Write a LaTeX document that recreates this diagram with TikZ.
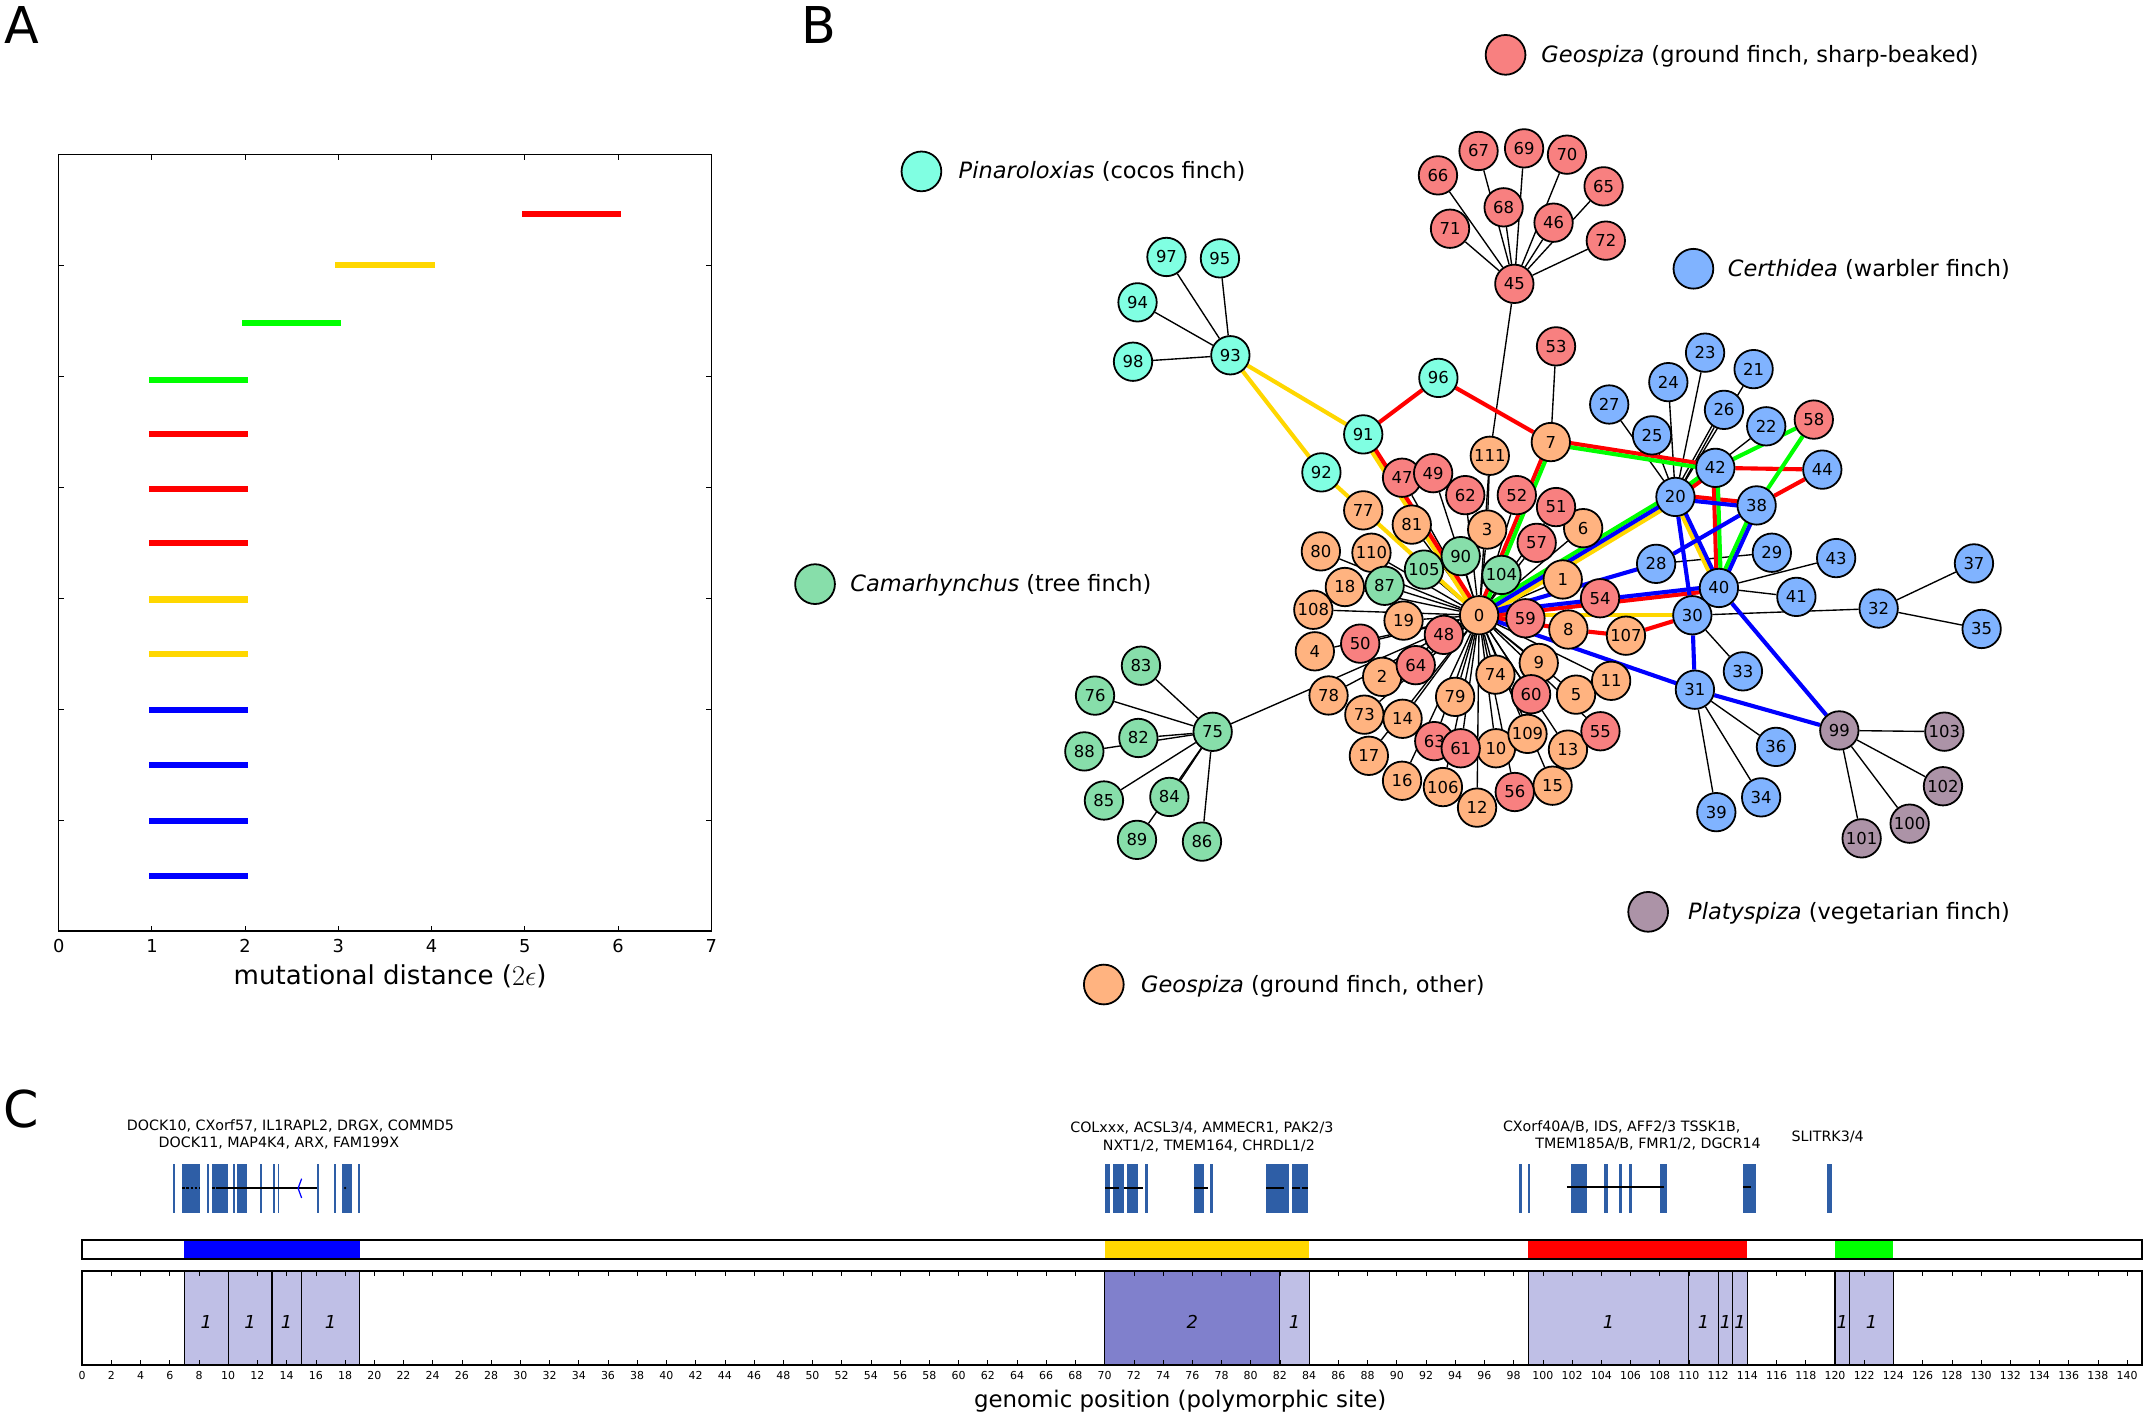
\documentclass[tikz,border=0pt]{standalone}
\usepackage{fontspec}
\setmainfont{DejaVu Sans}
\usetikzlibrary{calc,backgrounds}
\definecolor{nred}{RGB}{248,128,128}
\definecolor{ncyan}{RGB}{128,255,226}
\definecolor{nblue}{RGB}{128,179,255}
\definecolor{ngreen}{RGB}{135,222,170}
\definecolor{norange}{RGB}{255,179,128}
\definecolor{npurple}{RGB}{172,147,167}
\definecolor{eR}{RGB}{255,0,0}
\definecolor{eG}{RGB}{0,255,0}
\definecolor{eY}{RGB}{255,215,0}
\definecolor{eB}{RGB}{0,0,255}
\definecolor{lav}{RGB}{191,191,230}
\definecolor{lavd}{RGB}{128,128,204}
\definecolor{gb}{RGB}{46,94,166}
\newcommand{\pe}[4]{\draw[#1] ($(#2.center)!#4!90:(#3.center)$) -- ($(#3.center)!#4!-90:(#2.center)$);}
\tikzset{
  nd/.style={circle, draw=black, line width=1.3pt, minimum size=28pt, inner sep=0pt, font=\fontsize{12}{12}\selectfont},
  nR/.style={nd, fill=nred}, nC/.style={nd, fill=ncyan}, nB/.style={nd, fill=nblue},
  nG/.style={nd, fill=ngreen}, nO/.style={nd, fill=norange}, nP/.style={nd, fill=npurple},
  lg/.style={circle, draw=black, line width=1.3pt, minimum size=29pt, inner sep=0pt},
  lgtext/.style={anchor=base west, inner sep=0pt, font=\fontsize{16.4}{18}\selectfont},
  bk/.style={line width=1pt, black},
  cR/.style={line width=3pt, eR}, cG/.style={line width=3pt, eG},
  cY/.style={line width=3pt, eY}, cB/.style={line width=3pt, eB},
  abar/.style={line width=4.5pt, line cap=rect},
  panel/.style={anchor=base west, inner sep=0pt, font=\fontsize{37}{37}\selectfont},
  glab/.style={inner sep=0pt, font=\fontsize{10.4}{12}\selectfont},
  one/.style={inner sep=0pt, font=\fontsize{13}{13}\selectfont\itshape},
}
\begin{document}
\begin{tikzpicture}[x=1pt,y=-1pt]
\useasboundingbox (0,0) rectangle (1568,1036);

% ---------------- Panel A ----------------
\node[panel] (labA) at (3,32) {A};
\draw[line width=1pt] (42.8,112.6) rectangle (518.8,679);
\foreach \i in {1,...,6} {
  \draw[line width=0.7pt] (42.8+68*\i,679) -- ++(0,-4);
  \draw[line width=0.7pt] (42.8+68*\i,112.6) -- ++(0,4);
}
\foreach \k in {1,...,6} {
  \draw[line width=0.7pt] (42.8,112.6+80.91*\k) -- ++(4,0);
  \draw[line width=0.7pt] (518.8,112.6+80.91*\k) -- ++(-4,0);
}
\foreach \i in {0,...,7} {
  \node[inner sep=0pt, font=\fontsize{13}{13}\selectfont] (xt\i) at (42.8+68*\i,690) {\i};
}
\draw[abar, eR] (42.8+68*5,155.8) -- (42.8+68*6,155.8);
\draw[abar, eY] (42.8+68*3,193.5) -- (42.8+68*4,193.5);
\draw[abar, eG] (42.8+68*2,235.8) -- (42.8+68*3,235.8);
\draw[abar, eG] (110.8,277.2) -- (178.8,277.2);
\draw[abar, eR] (110.8,316.7) -- (178.8,316.7);
\draw[abar, eR] (110.8,356.7) -- (178.8,356.7);
\draw[abar, eR] (110.8,395.8) -- (178.8,395.8);
\draw[abar, eY] (110.8,437.2) -- (178.8,437.2);
\draw[abar, eY] (110.8,477.2) -- (178.8,477.2);
\draw[abar, eB] (110.8,517.7) -- (178.8,517.7);
\draw[abar, eB] (110.8,558.1) -- (178.8,558.1);
\draw[abar, eB] (110.8,598.6) -- (178.8,598.6);
\draw[abar, eB] (110.8,639.0) -- (178.8,639.0);
\node[inner sep=0pt, font=\fontsize{19}{19}\selectfont] (xlabA) at (284.5,712) {mutational distance (\raisebox{-0.05em}{\scalebox{1.2}{$2\epsilon$}})};

% ---------------- Panel B ----------------
\node[panel] (labB) at (584,32) {B};

% legend
\node[lg, fill=nred] (lg1) at (1098,40) {};
\node[lgtext] (lt1) at (1124,45.5) {\textit{Geospiza} (ground finch, sharp-beaked)};
\node[lg, fill=ncyan] (lg2) at (672,125) {};
\node[lgtext] (lt2) at (699,130.5) {\textit{Pinaroloxias} (cocos finch)};
\node[lg, fill=nblue] (lg3) at (1235,196) {};
\node[lgtext] (lt3) at (1260,201.5) {\textit{Certhidea} (warbler finch)};
\node[lg, fill=ngreen] (lg4) at (594.4,426) {};
\node[lgtext] (lt4) at (620,431.5) {\textit{Camarhynchus} (tree finch)};
\node[lg, fill=npurple] (lg5) at (1202,665) {};
\node[lgtext] (lt5) at (1231,670.5) {\textit{Platyspiza} (vegetarian finch)};
\node[lg, fill=norange] (lg6) at (805,718) {};
\node[lgtext] (lt6) at (832,723.5) {\textit{Geospiza} (ground finch, other)};

% nodes: orange
\foreach \i/\x/\y in {7/1131/322.4, 111/1086.5/332.4, 3/1084.6/386.2, 6/1154.6/385.2, 1/1139.7/422.6,
  0/1078.7/448.7, 8/1143.8/459.1, 107/1185.8/463.6, 77/994.2/372.2, 81/1029.6/382.6, 110/1000.2/403.1,
  80/963.3/402.1, 18/980.8/428.1, 108/957.8/444.7, 19/1023.6/452.6, 4/958.9/475, 2/1008/493.6,
  78/968.9/507.2, 73/995/521.2, 14/1022.9/524.2, 17/998.3/551.2, 16/1022.5/569.4, 106/1052.3/574,
  12/1077.2/589, 10/1091/545.7, 109/1114/535.2, 13/1143.5/546.7, 15/1132.3/573, 79/1061.2/508.2,
  74/1090.6/492, 9/1122.2/483.5, 5/1149.4/506.6, 11/1175/496.5}
  \node[nO] (n\i) at (\x,\y) {\i};
% green
\foreach \i/\x/\y in {105/1038.5/415.4, 90/1065.3/405.6, 104/1095/419.3, 87/1009.8/427.2,
  75/884.4/533.7, 83/832.1/485.5, 76/798.6/507.3, 82/830.2/538.2, 88/790.8/548, 85/805.1/583.8,
  84/852.8/581.2, 89/829.2/612.5, 86/876.6/613.8}
  \node[nG] (n\i) at (\x,\y) {\i};
% red
\foreach \i/\x/\y in {66/1048.7/127.9, 67/1078.3/110.1, 69/1111.5/108.2, 70/1142.8/112.8,
  65/1169.5/135.9, 68/1096.6/151.2, 71/1057.5/166.8, 46/1133/162.4, 72/1171.1/175.5, 45/1104.4/207,
  53/1134.8/252.6, 47/1022.5/348.4, 49/1045.2/345.1, 62/1068.6/361.1, 52/1106.2/361.1,
  51/1134.8/369.8, 57/1120.7/395.9, 59/1112.5/450.9, 54/1166.9/436.3, 48/1053/463, 50/992/469.4,
  64/1032.5/485.1, 60/1116.6/506.3, 55/1167.2/533.3, 63/1046/540.5, 61/1065.3/545.7,
  56/1104.7/577.6, 58/1322.8/306}
  \node[nR] (n\i) at (\x,\y) {\i};
% cyan
\foreach \i/\x/\y in {97/850.7/187.4, 95/889.7/188.4, 94/829.6/220.5, 98/826.3/263.8,
  93/897.3/259.1, 91/994.2/316.8, 92/963.7/344.5, 96/1049/275.6}
  \node[nC] (n\i) at (\x,\y) {\i};
% blue
\foreach \i/\x/\y in {23/1243.5/257.2, 21/1278.9/269.2, 24/1216.7/278.7, 27/1173.6/295,
  26/1257.3/298.9, 25/1204.8/317.5, 22/1288.1/310.9, 44/1329/342.5, 42/1251/341.2,
  20/1221.9/362.4, 38/1281.1/368.6, 28/1207.8/411.2, 29/1292.2/403.1, 43/1339.1/407,
  40/1253.6/428.8, 41/1310.1/435.3, 30/1234.2/448.7, 32/1370.1/443.8, 37/1439.6/410.9,
  35/1445.2/458.7, 33/1271.1/489.6, 31/1236.1/503, 36/1295.2/544.7, 34/1284.4/581.5,
  39/1251.7/592.3}
  \node[nB] (n\i) at (\x,\y) {\i};
% purple
\foreach \i/\x/\y in {99/1341.4/532.7, 103/1418/533.6, 102/1417/573.4, 100/1392.7/600.7,
  101/1357.7/611.4}
  \node[nP] (n\i) at (\x,\y) {\i};

\begin{scope}[on background layer]
  % black edges
  \foreach \j in {97,95,94,98} \draw[bk] (n93) -- (n\j);
  \foreach \j in {66,67,68,69,70,71,46,65,72,111} \draw[bk] (n45) -- (n\j);
  \draw[bk] (n53) -- (n7);
  \foreach \j in {83,76,82,88,85,84,89,86,0} \draw[bk] (n75) -- (n\j);
  \foreach \j in {111,3,47,49,62,52,51,57,6,1,104,90,105,87,81,77,110,80,18,108,19,4,50,48,64,2,78,
    73,14,17,16,106,63,61,79,12,10,74,109,56,60,9,5,11,13,15,55,59,54,8}
    \draw[bk] (n0) -- (n\j);
  \draw[bk] (n111) -- (n3);
  \foreach \j in {27,25,24,23,26,21,22} \draw[bk] (n20) -- (n\j);
  \draw[bk] ($(n20.center)!2pt!90:(n26.center)$) -- ($(n26.center)!2pt!-90:(n20.center)$);
  \draw[bk] (n40) -- (n43);
  \draw[bk] (n40) -- (n41);
  \draw[bk] (n28) -- (n29);
  \draw[bk] (n30) -- (n32);
  \draw[bk] (n32) -- (n37);
  \draw[bk] (n32) -- (n35);
  \draw[bk] (n30) -- (n33);
  \foreach \j in {36,34,39} \draw[bk] (n31) -- (n\j);
  \foreach \j in {103,102,100,101} \draw[bk] (n99) -- (n\j);
  % yellow
  \draw[cY] (n93) -- (n91);
  \draw[cY] (n93) -- (n92);
  \draw[cY] (n92.center) -- (n0.center);
  \draw[cY] (n0.center) -- (n30.center);
  \pe{cY}{n91}{n0}{-1.5pt}
  \pe{cY}{n0}{n20}{-3pt}
  \pe{cY}{n20}{n40}{-1.5pt}
  % red
  \draw[cR] (n91) -- (n96);
  \draw[cR] (n96) -- (n7);
  \pe{cR}{n91}{n0}{1.5pt}
  \pe{cR}{n0}{n7}{1.5pt}
  \pe{cR}{n7}{n42}{1.5pt}
  \pe{cR}{n20}{n42}{-1.5pt}
  \draw[cR] (n42) -- (n44);
  \draw[cR] (n44) -- (n38);
  \pe{cR}{n20}{n38}{1.5pt}
  \pe{cR}{n42}{n40}{-1.5pt}
  \pe{cR}{n0}{n40}{-1.5pt}
  \draw[cR] (n0.center) -- (n8.center);
  \draw[cR] (n8) -- (n107);
  \draw[cR] (n107) -- (n30);
  % green
  \pe{cG}{n0}{n7}{-1.5pt}
  \pe{cG}{n7}{n42}{-1.5pt}
  \pe{cG}{n20}{n42}{1.5pt}
  \draw[cG] (n42) -- (n58);
  \draw[cG] (n58) -- (n38);
  \pe{cG}{n42}{n40}{1.5pt}
  \pe{cG}{n38}{n40}{-1.5pt}
  \pe{cG}{n0}{n20}{3pt}
  % blue
  \draw[cB] (n0.center) -- (n20.center);
  \draw[cB] (n0.center) -- (n28.center);
  \draw[cB] (n28) -- (n38);
  \pe{cB}{n20}{n38}{-1.5pt}
  \pe{cB}{n38}{n40}{1.5pt}
  \pe{cB}{n20}{n40}{1.5pt}
  \draw[cB] (n20) -- (n30);
  \pe{cB}{n0}{n40}{1.5pt}
  \draw[cB] (n0.center) -- (n31.center);
  \draw[cB] (n30) -- (n31);
  \draw[cB] (n31) -- (n99);
  \draw[cB] (n40) -- (n99);
\end{scope}

% ---------------- Panel C ----------------
\node[panel] (labC) at (2,822) {C};
\node[glab] (g1a) at (211.8,821.2) {DOCK10, CXorf57, IL1RAPL2, DRGX, COMMD5};
\node[glab] (g1b) at (203.4,833.8) {DOCK11, MAP4K4, ARX, FAM199X};
\node[glab] (g2a) at (876.5,822.9) {COLxxx, ACSL3/4, AMMECR1, PAK2/3};
\node[glab] (g2b) at (881.6,835.8) {NXT1/2, TMEM164, CHRDL1/2};
\node[glab] (g3a) at (1182.7,821.6) {CXorf40A/B, IDS, AFF2/3 TSSK1B,};
\node[glab] (g3b) at (1201.9,834.3) {TMEM185A/B, FMR1/2, DGCR14};
\node[glab] (g4) at (1332.9,829.4) {SLITRK3/4};

% gene glyphs
\foreach \a/\b in {126.3/127.6, 133/145.8, 150.8/152.1, 154.5/166.3, 169.8/171.1, 172.9/180.1,
  189.7/191, 198.9/200.2, 202.5/203.8, 231.2/232.5, 243.9/245.2, 249.7/256.8, 261.3/262.6,
  805.7/809.8, 811.8/819.5, 822/829.7, 834.8/837.4, 870.6/878.3, 882.4/884.4, 923.3/939.7, 942.3/954,
  1108/1110, 1114.6/1115.9, 1145.9/1157.6, 1169.9/1173, 1180.7/1183.2, 1187.8/1190.4,
  1210.3/1216, 1271.2/1280.4, 1332.6/1335.7}
  \fill[gb] (\a,848.9) rectangle (\b,884.4);
\draw[line width=1.3pt] (160,866.4) -- (231.5,866.4);
\draw[line width=1.3pt, dash pattern=on 2pt off 1pt] (133,866.4) -- (145.8,866.4);
\draw[line width=1.3pt, dash pattern=on 2pt off 1pt] (154.5,866.4) -- (168,866.4);
\fill (251.7,866.4) circle (0.9);
\draw[eB, line width=0.9pt] (220,859.6) -- (217.4,866.6) -- (220,873.7);
\foreach \a/\b in {805.7/815.9, 819.5/833.8, 870.6/880.9, 923.3/936.1, 942.3/947.9, 949.9/954}
  \draw[line width=1.5pt] (\a,866.4) -- (\b,866.4);
\draw[line width=1.5pt] (1142.8,865.8) -- (1213.4,865.8);
\draw[line width=1.5pt] (1271.5,865.8) -- (1277,865.8);

\begin{scope}[shift={(59.9,0)}, x=10.653pt]
  % upper colored bar
  \fill[eB] (7,904.3) rectangle (19,918.4);
  \fill[eY] (70,904.3) rectangle (84,918.4);
  \fill[eR] (99,904.3) rectangle (114,918.4);
  \fill[eG] (120,904.3) rectangle (124,918.4);
  \draw[line width=1.3pt] (0,904.3) rectangle (141,918.4);
  % lower box regions
  \foreach \a/\b in {7/10, 10/13, 13/15, 15/19, 82/84, 99/110, 110/112, 112/113, 113/114, 120/121, 121/124}
    \filldraw[fill=lav, draw=black, line width=0.8pt] (\a,926.7) rectangle (\b,995.7);
  \filldraw[fill=lavd, draw=black, line width=0.8pt] (70,926.7) rectangle (82,995.7);
  \foreach \c in {8.5, 11.5, 14, 17, 83, 104.5, 111, 112.5, 113.5, 120.5, 122.5}
    \node[one] at (\c,963.9) {1};
  \node[one] at (76,963.9) {2};
  \foreach \s in {2,4,...,140} {
    \draw[line width=0.5pt] (\s,926.7) -- ++(0,3.6);
    \draw[line width=0.5pt] (\s,995.7) -- ++(0,-3.6);
  }
  \foreach \s in {0,2,...,140}
    \node[inner sep=0pt, font=\fontsize{8}{8}\selectfont] at (\s,1003) {\s};
  \draw[line width=1.3pt] (0,926.7) rectangle (141,995.7);
\end{scope}
\node[inner sep=0pt, font=\fontsize{16.7}{17}\selectfont] (xlabC) at (860.7,1022) {genomic position (polymorphic site)};
\end{tikzpicture}
\end{document}
